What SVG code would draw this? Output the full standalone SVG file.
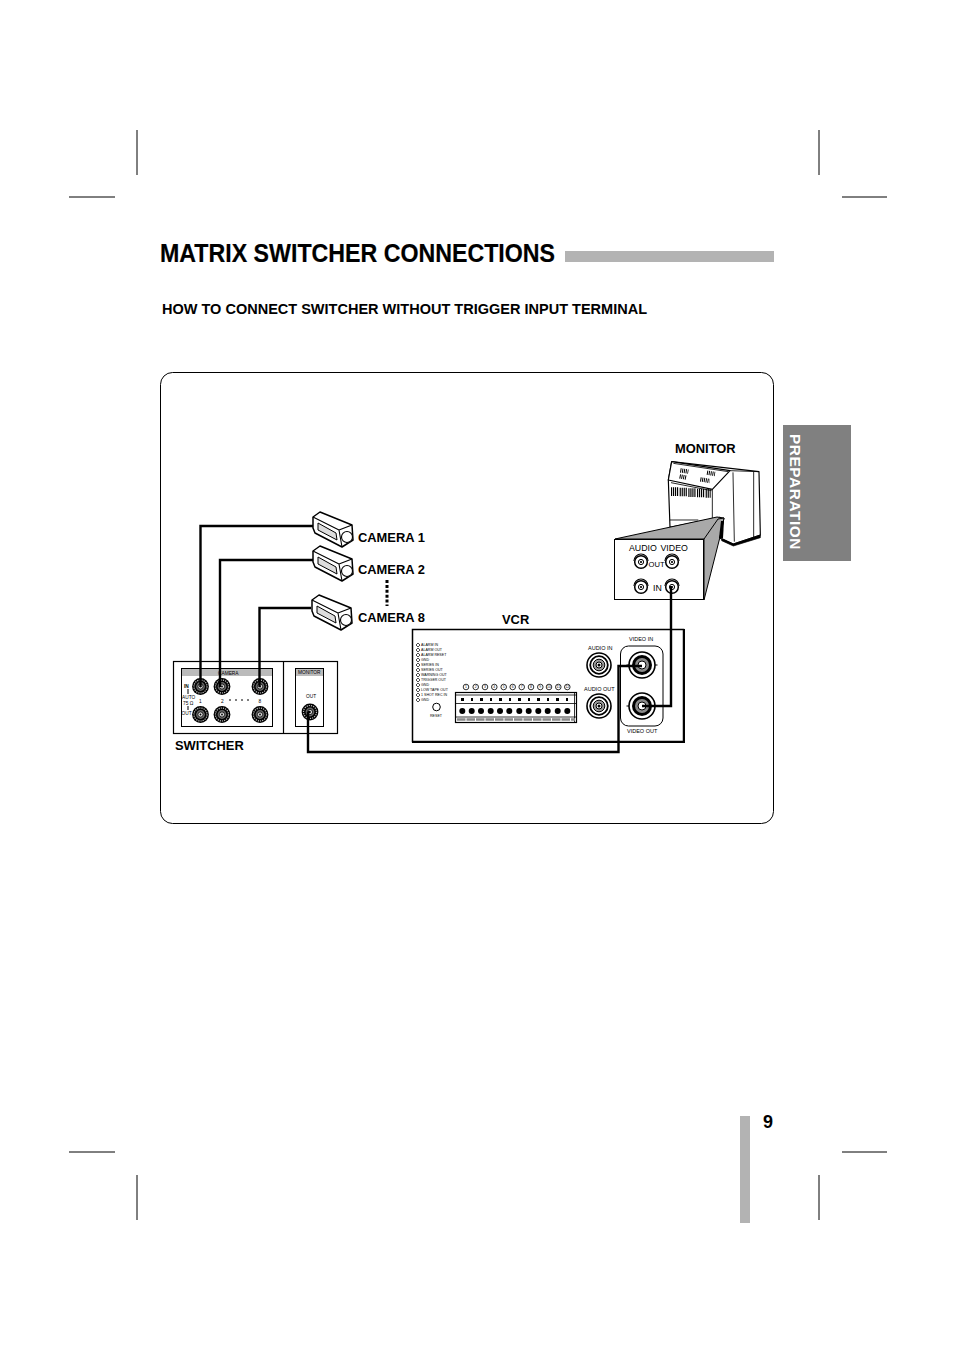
<svg xmlns="http://www.w3.org/2000/svg" width="954" height="1351" viewBox="0 0 954 1351">
<style>
text{font-family:"Liberation Sans",Arial,sans-serif;fill:#000}
.b{font-weight:bold}
.lbl{font-weight:bold;font-size:12.9px}
.t{font-size:4.8px}
.v{font-size:5.5px}
.l{font-size:3.6px}
.n{font-size:3.4px;text-anchor:middle}
.m{font-size:8.8px}
.crop{stroke:#000;stroke-width:1;fill:none}
.box{fill:#fff;stroke:#000;stroke-width:1.2}
.wire{fill:none;stroke:#000;stroke-width:2.4;stroke-linejoin:miter}
</style>
<defs>
<g id="bnc">
<circle r="8.400" fill="#000"/><circle r="6.500" fill="none" stroke="#bbb" stroke-width="1.200" stroke-dasharray="1.200 1"/>
<circle r="4.400" fill="#666"/><circle r="2.600" fill="#ddd" stroke="#000" stroke-width=".8"/><circle r=".9" fill="#000"/>
</g>
<g id="rca">
<circle r="12" fill="#fff" stroke="#000" stroke-width="1.600"/><circle r="8.800" fill="#fff" stroke="#000" stroke-width="1.800"/><circle r="5.800" fill="#999" stroke="#000" stroke-width="1"/><circle r="3" fill="#fff" stroke="#000" stroke-width="1"/><circle r="1.500" fill="#000"/>
</g>
<g id="vid">
<path d="M-15.500 0H15.500" stroke="#000" stroke-width="1"/>
<circle r="13" fill="#fff" stroke="#000" stroke-width="1.600"/><circle r="10" fill="#000"/><circle r="7" fill="#8a8a8a"/><circle r="4" fill="#fff" stroke="#000" stroke-width="1"/>
</g>
<g id="jack">
<path d="M-7 0A7 7 0 0 1 7 0" fill="#fff" stroke="#000" stroke-width="1.200"/>
<circle r="6.300" cy="1" fill="#fff" stroke="#000" stroke-width="1.500"/><circle r="2.600" cy="1" fill="#fff" stroke="#000" stroke-width="1"/><circle r="1.100" cy="1" fill="#000"/>
</g>
<g id="cam" stroke="#000" stroke-linejoin="round">
<path d="M313 517 320 512 352 525 353 540 342 547 315 533 313 528Z" fill="#fff" stroke-width="1.500"/>
<path d="M313 517 339 530 352 525M339 530 342 547" fill="none" stroke-width="1.100"/>
<path d="M318 523 336 533 337 540 318 530Z" fill="#ddd" stroke-width="1"/>
<circle cx="347" cy="537" r="5.500" fill="#fff" stroke-width="1.100"/>
</g>
</defs>

<g id="page-marks" class="crop">
<path d="M69 197H115M842 197H887M137 130V175M819 130V175M69 1152H115M842 1152H887M137 1175V1220M819 1175V1220"/>
</g>

<g id="header">
<text class="b" x="160" y="262" font-size="26" stroke="#000" stroke-width=".2" textLength="395" lengthAdjust="spacingAndGlyphs">MATRIX SWITCHER CONNECTIONS</text>
<rect x="565" y="251" width="209" height="11" fill="#b3b3b3"/>
<text class="b" x="162" y="314" font-size="14" textLength="485" lengthAdjust="spacingAndGlyphs">HOW TO CONNECT SWITCHER WITHOUT TRIGGER INPUT TERMINAL</text>
</g>

<g id="side-tab">
<rect x="783" y="425" width="68" height="136" fill="#808080"/>
<text class="b" transform="translate(790 434) rotate(90)" font-size="14.5" letter-spacing=".5" textLength="116" lengthAdjust="spacingAndGlyphs" style="fill:#fff">PREPARATION</text>
</g>

<g id="page-number">
<rect x="740" y="1116" width="10" height="107" fill="#b3b3b3"/>
<text class="b" x="763" y="1128" font-size="18">9</text>
</g>

<rect id="frame" x="160.500" y="372.500" width="613" height="451" rx="12" fill="#fff" stroke="#000" stroke-width="1"/>

<g id="monitor">
<text class="lbl" x="675" y="453">MONITOR</text>
<g transform="translate(605 440) scale(.33333)">
<path d="M200 65 462 95 466 285 385 312 345 295 345 232 195 262 190 120Z" fill="#fff" stroke="#000" stroke-width="3.500" stroke-linejoin="round"/>
<path d="M190 120 200 65 375 92 322 148Z" fill="#fff" stroke="#000" stroke-width="3.500" stroke-linejoin="round"/>
<path d="M205 70 370 95 M322 148V235M375 92 462 95M384 97 388 305M446 95 446 295M198 128 320 152M195 240H280" fill="none" stroke="#000" stroke-width="2.500"/>
<path d="M350 295 385 312 466 285 466 293 385 318 350 302Z" fill="#000" stroke="#000" stroke-width="2"/>
<path d="M198 155H220M224 156H246M250 158H272M276 159H298M302 160H317" stroke="#000" stroke-width="26" stroke-dasharray="3.500 2.500" fill="none"/>
<path d="M226 91 250 95M224 109 244 113M306 98 330 102M286 118 314 123" stroke="#000" stroke-width="13" stroke-dasharray="3 2.500" fill="none"/>
</g>
</g>

<g id="monitor-panel">
<path d="M615 539 717 517 724 518 720 537 704 539Z" fill="#a9a9a9" stroke="#000" stroke-width="1"/>
<path d="M704 539 718 519 724 518 720 537 704 600Z" fill="#a9a9a9" stroke="#000" stroke-width="1"/>
<path d="M721 521h3l-1 17h-4z" fill="#000"/>
<rect x="614.500" y="539.500" width="89" height="60" fill="#fff" stroke="#000" stroke-width="1"/>
<use href="#jack" x="641" y="561"/><use href="#jack" x="672" y="561"/>
<use href="#jack" x="641" y="586"/><use href="#jack" x="672" y="586"/>
<text class="m" x="629" y="551">AUDIO</text><text class="m" x="660.500" y="551">VIDEO</text>
<text class="m" x="648.500" y="567" style="font-size:7.600px">OUT</text>
<text class="m" x="653" y="591">IN</text>
</g>

<g id="camera-1"><use href="#cam"/><text class="lbl" x="358" y="542">CAMERA 1</text></g>
<g id="camera-2"><use href="#cam" y="34"/><text class="lbl" x="358" y="574">CAMERA 2</text></g>
<path id="camera-dots" d="M387 580V606" stroke="#000" stroke-width="3" stroke-dasharray="3 1.900"/>
<g id="camera-8"><use href="#cam" x="-1" y="83"/><text class="lbl" x="358" y="622">CAMERA 8</text></g>

<g id="switcher">
<rect class="box" x="173.500" y="661.500" width="164" height="72" stroke="#333"/>
<path d="M283.500 661V734" stroke="#000" stroke-width="1.200"/>
<rect x="181.500" y="668.500" width="91" height="58" fill="#fff" stroke="#000"/>
<rect x="182" y="669" width="90" height="7" fill="#bbb"/>
<text class="t" x="218" y="674.500">CAMERA</text>
<rect x="295.500" y="668.500" width="28" height="58" fill="#fff" stroke="#000"/>
<rect x="296" y="669" width="27" height="7" fill="#bbb"/>
<text class="t" x="298" y="673.500">MONITOR</text>
<text class="t" x="306" y="698">OUT</text>
<path d="M188 689V694M188 706V710" stroke="#000"/>
<use href="#bnc" x="200.500" y="686.500"/><use href="#bnc" x="222" y="686.500"/><use href="#bnc" x="260" y="686.500"/>
<use href="#bnc" x="200.500" y="714.500"/><use href="#bnc" x="222" y="714.500"/><use href="#bnc" x="260" y="714.500"/>
<use href="#bnc" x="310" y="712"/>
<text class="t b" x="184" y="688">IN</text>
<text class="t" x="182" y="698.500">AUTO</text><text class="t" x="183" y="704.500">75 Ω</text>
<text class="t" x="181.500" y="714.500">OUT</text>
<text class="t" x="199" y="703">1</text><text class="t" x="221" y="703">2</text><text class="t" x="258.500" y="703">8</text>
<path d="M229 700H253" stroke="#000" stroke-width="1" stroke-dasharray="2 4"/>
<text class="lbl" x="175" y="750">SWITCHER</text>
</g>

<g id="vcr">
<rect x="412.500" y="629.500" width="271" height="112" fill="#fff" stroke="#000" stroke-width="1.500"/>
<path d="M684 629V742H412" fill="none" stroke="#000" stroke-width="2"/>
<text class="lbl" x="502" y="624">VCR</text>
<g fill="#fff" stroke="#000" stroke-width=".7">
<path d="M416 645l2-2 2 2-2 2zM416 650l2-2 2 2-2 2zM416 655l2-2 2 2-2 2zM416 660l2-2 2 2-2 2zM416 665l2-2 2 2-2 2zM416 670l2-2 2 2-2 2zM416 675l2-2 2 2-2 2zM416 680l2-2 2 2-2 2zM416 685l2-2 2 2-2 2zM416 690l2-2 2 2-2 2zM416 695l2-2 2 2-2 2zM416 700l2-2 2 2-2 2z"/>
</g>
<text class="l" x="421" y="646">ALARM IN</text><text class="l" x="421" y="651">ALARM OUT</text><text class="l" x="421" y="656">ALARM RESET</text><text class="l" x="421" y="661">GND</text><text class="l" x="421" y="666">SERIES IN</text><text class="l" x="421" y="671">SERIES OUT</text><text class="l" x="421" y="676">WARNING OUT</text><text class="l" x="421" y="681">TRIGGER OUT</text><text class="l" x="421" y="686">GND</text><text class="l" x="421" y="691">LOW TAPE OUT</text><text class="l" x="421" y="696">1 SHOT REC IN</text><text class="l" x="421" y="701">GND</text>
<circle cx="436.500" cy="707" r="3.800" fill="#fff" stroke="#000"/>
<text class="l" x="430" y="716.500">RESET</text>
<g fill="#fff" stroke="#000" stroke-width=".8"><circle cx="466" cy="687" r="2.800"/><circle cx="475.700" cy="687" r="2.800"/><circle cx="485" cy="687" r="2.800"/><circle cx="494.300" cy="687" r="2.800"/><circle cx="503.700" cy="687" r="2.800"/><circle cx="512.700" cy="687" r="2.800"/><circle cx="521.700" cy="687" r="2.800"/><circle cx="531" cy="687" r="2.800"/><circle cx="540.300" cy="687" r="2.800"/><circle cx="549" cy="687" r="2.800"/><circle cx="558.300" cy="687" r="2.800"/><circle cx="567.300" cy="687" r="2.800"/></g>
<g><text class="n" x="466" y="688.200">1</text><text class="n" x="475.700" y="688.200">2</text><text class="n" x="485" y="688.200">3</text><text class="n" x="494.300" y="688.200">4</text><text class="n" x="503.700" y="688.200">5</text><text class="n" x="512.700" y="688.200">6</text><text class="n" x="521.700" y="688.200">7</text><text class="n" x="531" y="688.200">8</text><text class="n" x="540.300" y="688.200">9</text><text class="n" x="549" y="688.200">10</text><text class="n" x="558.300" y="688.200">11</text><text class="n" x="567.300" y="688.200">12</text></g>
<rect x="455.500" y="692.500" width="121" height="30" fill="#fff" stroke="#000" stroke-width="1.200"/>
<path d="M456 695H576M456 703.500H576M456 717H576M574.500 692V722" stroke="#000" stroke-width=".8" fill="none"/>
<path d="M457 719.500H575" stroke="#888" stroke-width="2.500" stroke-dasharray="8.500 1"/>
<g fill="#000">
<rect x="461" y="698" width="3" height="3"/><rect x="471" y="698" width="2" height="3"/><rect x="480" y="698" width="3" height="3"/><rect x="490" y="698" width="2" height="3"/><rect x="499" y="698" width="3" height="3"/><rect x="509" y="698" width="2" height="3"/><rect x="518" y="698" width="3" height="3"/><rect x="528" y="698" width="2" height="3"/><rect x="537" y="698" width="3" height="3"/><rect x="547" y="698" width="2" height="3"/><rect x="556" y="698" width="3" height="3"/><rect x="566" y="698" width="2" height="3"/>
<circle cx="462.300" cy="711" r="3"/><circle cx="471.700" cy="711" r="3"/><circle cx="481" cy="711" r="3"/><circle cx="490.700" cy="711" r="3"/><circle cx="500" cy="711" r="3"/><circle cx="509.300" cy="711" r="3"/><circle cx="519.300" cy="711" r="3"/><circle cx="528.700" cy="711" r="3"/><circle cx="538.300" cy="711" r="3"/><circle cx="547.700" cy="711" r="3"/><circle cx="557.700" cy="711" r="3"/><circle cx="567.300" cy="711" r="3"/>
</g>
<text class="v" x="588" y="650">AUDIO IN</text>
<text class="v" x="584" y="691">AUDIO OUT</text>
<use href="#rca" x="599" y="665"/><use href="#rca" x="599" y="706"/>
<rect x="620.500" y="646" width="42.500" height="80" rx="8" fill="#fff" stroke="#000"/>
<text class="v" x="629" y="641">VIDEO IN</text>
<text class="v" x="627" y="733">VIDEO OUT</text>
<use href="#vid" x="642" y="665"/><use href="#vid" x="642" y="706"/>
</g>

<g id="connectors" class="wire">
<path d="M200.500 687V526H313"/>
<path d="M220 687V560H313"/>
<path d="M259.500 687V608H311"/>
<path d="M308 712H310M308 712V752H618.500V666H642"/>
<path d="M642 706H671V586"/>
</g>
</svg>
